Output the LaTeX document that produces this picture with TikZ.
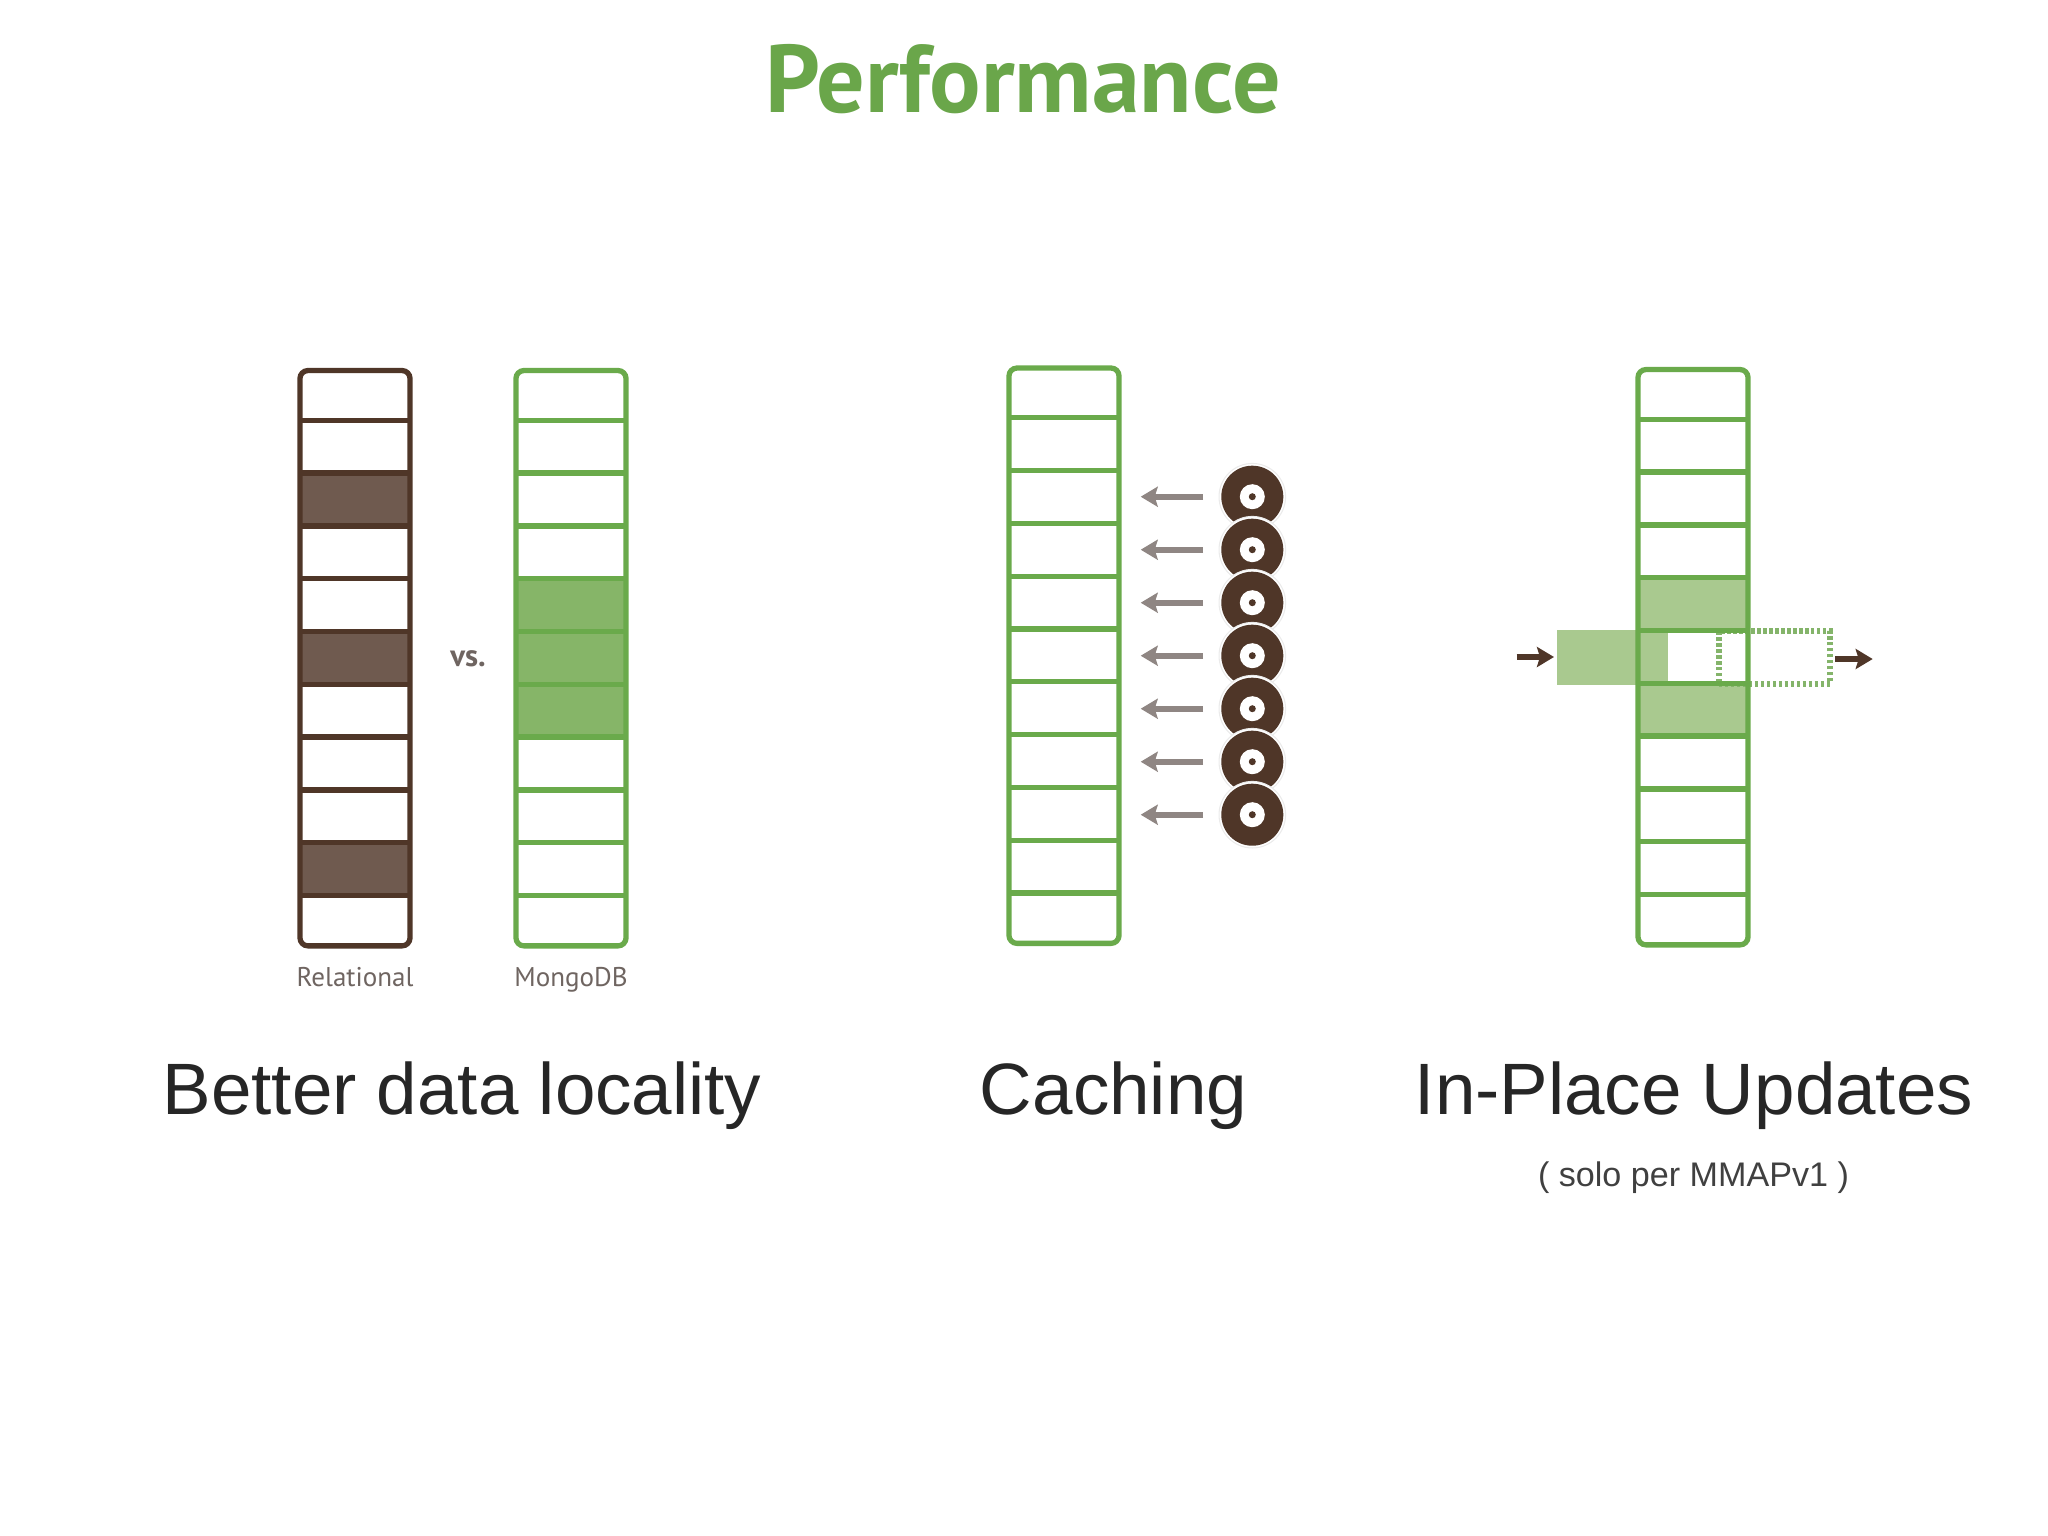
\documentclass[tikz,border=0pt]{standalone}
\usepackage{fontspec}
\setmainfont{Liberation Sans}
\newfontfamily\ptsans{PT Sans}
\usetikzlibrary{arrows.meta,positioning,calc}
\definecolor{leafgreen}{HTML}{6AAA4B}
\definecolor{titlegreen}{HTML}{6AA64A}
\definecolor{midgreen}{HTML}{86B568}
\definecolor{palegreen}{HTML}{A9C98F}
\definecolor{dotgreen}{HTML}{84B46A}
\definecolor{barkbrown}{HTML}{4F3628}
\definecolor{softbrown}{HTML}{6F5A4F}
\definecolor{ashgrey}{HTML}{8F8683}
\definecolor{labelgrey}{HTML}{6F6561}
\tikzset{
  colbox/.style={draw=#1, line width=1.5pt, rounded corners=0.08cm, inner sep=0pt,
    minimum width=1.1cm, minimum height=5.75cm},
  caption/.style={anchor=base, font=\fontsize{20.7}{24}\selectfont, text=black!85},
  smallcap/.style={anchor=base, font=\ptsans\fontsize{7.7}{9}\selectfont, text=labelgrey},
  discrim/.style={circle, inner sep=0pt, minimum size=0.665cm, fill=white, draw=black!8, line width=0.3pt},
  discbody/.style={circle, inner sep=0pt, minimum size=0.62cm, fill=barkbrown},
  dischole/.style={circle, inner sep=0pt, minimum size=0.25cm, fill=white},
  discpin/.style={circle, inner sep=0pt, minimum size=0.07cm, fill=barkbrown},
  cachearrow/.style={draw=ashgrey, line width=1.7pt, -{Stealth[length=0.17cm,width=0.2cm,inset=0.03cm]}},
  movearrow/.style={draw=barkbrown, line width=1.8pt, -{Stealth[length=0.17cm,width=0.2cm,inset=0.03cm]}},
}
% one column: name, centre x, shift y, colour
\newcommand{\datacol}[4]{
  \node[colbox=#4] (#1) at (#2,{658.2+#3}) {};
  \foreach \r in {1,...,10}
    \draw[draw=#4, line width=1.5pt] ({#2-55},{367.5+#3+52.8*\r}) -- ({#2+55},{367.5+#3+52.8*\r});
}
\begin{document}
\begin{tikzpicture}[x=0.01cm, y=-0.01cm]
\path[use as bounding box] (0,0) rectangle (2048,1536);
\node[anchor=base, font=\ptsans\bfseries\fontsize{27.3}{30}\selectfont, text=titlegreen] (title) at (1023,112) {Performance};

% relational vs mongodb
\foreach \r in {3,6,10}
  \fill[softbrown] (300,{367.5+52.8*(\r-1)}) rectangle (410,{367.5+52.8*\r});
\datacol{relcol}{355}{0}{barkbrown}
\foreach \r in {5,6,7}
  \fill[midgreen] (516,{367.5+52.8*(\r-1)}) rectangle (626,{367.5+52.8*\r});
\datacol{mongocol}{571}{0}{leafgreen}
\node[smallcap] (rellabel) at (355,986.7) {Relational};
\node[smallcap] (mongolabel) at (571,986.7) {MongoDB};
\node[smallcap, font=\ptsans\bfseries\fontsize{8.8}{10}\selectfont] (vslabel) at (468,666) {vs.};

% caching
\datacol{cachecol}{1064}{-2.5}{leafgreen}
\foreach \i in {1,...,7} {
  \node[discrim] (rim\i) at (1252.3,{496.7+53*(\i-1)}) {};
  \node[discbody] (disc\i) at (rim\i.center) {};
  \node[dischole] (hole\i) at (disc\i.center) {};
  \node[discpin] (pin\i) at (disc\i.center) {};
  \coordinate (arrowstart\i) at (1203,{496.7+53*(\i-1)});
  \coordinate (arrowend\i) at (1140.7,{496.7+53*(\i-1)});
  \draw[cachearrow] (arrowstart\i) -- (arrowend\i);
}

% in-place updates
\foreach \r in {5,7}
  \fill[palegreen] (1638,{366.5+52.8*(\r-1)}) rectangle (1748,{366.5+52.8*\r});
\node[fill=palegreen, inner sep=0pt, minimum width=1.11cm, minimum height=0.54cm] (newdoc) at (1612.2,657.5) {};
\node[draw=dotgreen, dash pattern=on 0.95pt off 0.75pt, line width=1.6pt, inner sep=0pt, minimum width=1.11cm, minimum height=0.527cm] (olddoc) at (1774.5,657.5) {};
\datacol{updatecol}{1693}{-1}{leafgreen}
\coordinate (instart) at (1516.7,657);
\coordinate (inend) at (1554,657);
\coordinate (outstart) at (1835,659);
\coordinate (outend) at (1872.7,659);
\draw[movearrow] (instart) -- (inend);
\draw[movearrow] (outstart) -- (outend);

\node[caption] (cap1) at (462,1114) {Better data locality};
\node[caption] (cap2) at (1113.5,1114) {Caching};
\node[caption] (cap3) at (1694,1114) {In-Place Updates};
\node[anchor=base, font=\fontsize{9.7}{12}\selectfont, text=black!75] (note) at (1693.5,1186) {( solo per MMAPv1 )};
\end{tikzpicture}
\end{document}
